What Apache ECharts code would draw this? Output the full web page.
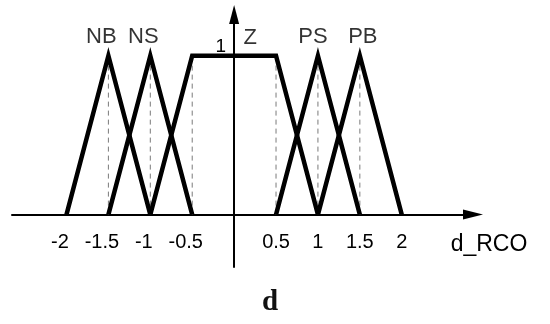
<!DOCTYPE html>
<html>
<head>
<meta charset="utf-8">
<title>d_RCO membership functions</title>
<script src="https://cdn.jsdelivr.net/npm/echarts@6/dist/echarts.min.js"></script>
<style>
  html, body { margin: 0; padding: 0; background: #fff; }
  #chart { width: 550px; height: 324px; }
</style>
</head>
<body>
<div id="chart"></div>
<script>
// Fuzzy sets of d_RCO: breakpoints on the universe and the membership grade at each
const setNames = ['NB', 'NS', 'Z', 'PS', 'PB'];
const setBreakpoints = [
  [-2, -1.5, -1],
  [-1.5, -1, -0.5],
  [-1, -0.5, 0.5, 1],
  [0.5, 1, 1.5],
  [1, 1.5, 2]
];
const setGrades = [
  [0, 1, 0],
  [0, 1, 0],
  [0, 1, 1, 0],
  [0, 1, 0],
  [0, 1, 0]
];
const setCenters = [-1.5, -1, 0, 1, 1.5];
const xTickLabels = [-2, -1.5, -1, -0.5, 0.5, 1, 1.5, 2];
const yTickLabels = [1];
const xAxisName = 'd_RCO';
const caption = 'd';

// Plot frame (pixels) and axis extents
const W = 550, H = 324;
const grid = { left: 12, right: 77, top: 14.5, bottom: 57 };
const xMin = -2.65, xMax = 2.85, yMin = -0.33, yMax = 1.26;
const plotW = W - grid.left - grid.right;
const plotH = H - grid.top - grid.bottom;
// Shift each axis so that it crosses the other one at zero
const xAxisShift = -(0 - yMin) / (yMax - yMin) * plotH;
const yAxisShift = -(0 - xMin) / (xMax - xMin) * plotW;

// Label nudges for the set names (pixels)
const nameOffsets = { NB: [-7, -19], NS: [-7, -19], Z: [16, -18], PS: [-5, -19], PB: [3, -19] };

// Dashed guides drop from every point where a set reaches full membership
const guideXs = [];
setBreakpoints.forEach((pts, i) => {
  pts.forEach((x, j) => {
    if (setGrades[i][j] === 1 && guideXs.indexOf(x) < 0) guideXs.push(x);
  });
});

const sansFont = '"Liberation Sans", Arial, Helvetica, sans-serif';
const series = [];

guideXs.forEach(x => {
  series.push({
    type: 'line',
    data: [[x, 0], [x, 1]],
    symbol: 'none',
    silent: true,
    z: 1,
    lineStyle: { color: '#7a7a7a', width: 1, type: [5, 4] }
  });
});

setNames.forEach((name, i) => {
  series.push({
    name: name,
    type: 'line',
    data: setBreakpoints[i].map((x, j) => [x, setGrades[i][j]]),
    symbol: 'none',
    silent: true,
    z: 3,
    lineStyle: { color: '#000', width: 4.5, join: 'miter', cap: 'butt' }
  });
});

series.push({
  type: 'scatter',
  data: setNames.map((n, i) => ({ name: n, value: [setCenters[i], 1], label: { offset: nameOffsets[n] } })),
  symbolSize: 1,
  itemStyle: { color: 'rgba(0,0,0,0)' },
  silent: true,
  z: 4,
  label: {
    show: true,
    position: 'inside',
    formatter: '{b}',
    color: '#000',
    fontSize: 22,
    fontFamily: sansFont
  }
});

const chart = echarts.init(document.getElementById('chart'), null, { renderer: 'canvas' });
chart.setOption({
  animation: false,
  backgroundColor: '#fff',
  title: {
    text: caption,
    left: 257,
    top: 283,
    textStyle: { fontFamily: '"Liberation Serif", "Times New Roman", serif', fontWeight: 'bold', fontSize: 29, color: '#111' }
  },
  grid: Object.assign({ containLabel: false, outerBoundsMode: 'none' }, grid),
  xAxis: {
    type: 'value',
    min: xMin,
    max: xMax,
    position: 'bottom',
    offset: xAxisShift,
    splitLine: { show: false },
    axisTick: { show: false },
    axisLine: {
      onZero: false,
      symbol: ['none', 'triangle'],
      symbolSize: [10, 20],
      lineStyle: { color: '#000', width: 2 }
    },
    axisLabel: {
      customValues: xTickLabels,
      margin: 18,
      color: '#000',
      fontSize: 20,
      fontFamily: sansFont,
      formatter: v => (v < 0 ? '{neg|' + v + '}' : String(v)),
      rich: {
        neg: { padding: [0, 13, 0, 0], fontSize: 20, fontFamily: sansFont, color: '#000' }
      }
    },
    name: xAxisName,
    nameLocation: 'end',
    nameGap: 16,
    nameMoveOverlap: false,
    nameTextStyle: {
      align: 'center',
      verticalAlign: 'top',
      padding: [19, 0, 0, 0],
      color: '#000',
      fontSize: 23,
      fontFamily: sansFont
    }
  },
  yAxis: {
    type: 'value',
    min: yMin,
    max: yMax,
    position: 'left',
    offset: yAxisShift,
    splitLine: { show: false },
    axisTick: { show: false },
    axisLine: {
      onZero: false,
      symbol: ['none', 'triangle'],
      symbolSize: [10, 19],
      lineStyle: { color: '#000', width: 2 }
    },
    axisLabel: {
      customValues: yTickLabels,
      margin: 8,
      verticalAlign: 'bottom',
      color: '#000',
      fontSize: 19,
      fontFamily: sansFont
    }
  },
  series: series
});
</script>
</body>
</html>
